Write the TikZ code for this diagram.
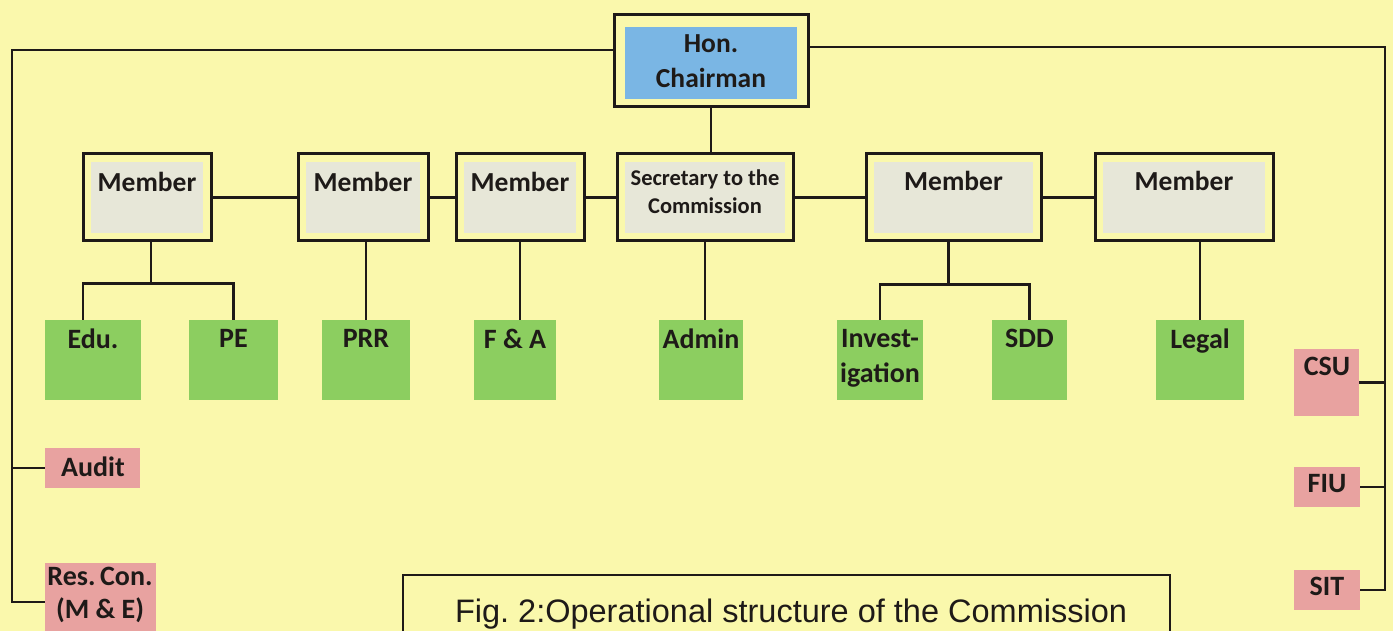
\documentclass[tikz,border=0pt]{standalone}
\usepackage{fontspec}
\setmainfont{Carlito}
\newfontfamily\capfont{Liberation Sans}
\definecolor{bgyellow}{RGB}{250,248,172}
\definecolor{ink}{RGB}{30,26,24}
\definecolor{chairblue}{RGB}{122,182,228}
\definecolor{unitgreen}{RGB}{140,206,96}
\definecolor{unitpink}{RGB}{232,162,160}
\definecolor{greyin}{RGB}{231,231,216}
\tikzset{
  conn/.style={draw=ink, line width=2.7pt},
  memberbox/.style={draw=ink, line width=3pt, fill=bgyellow, inner sep=0pt,
    path picture={\fill[greyin] ([shift={(8pt,-8pt)}]path picture bounding box.north west) rectangle ([shift={(-8pt,8pt)}]path picture bounding box.south east);}},
  chairbox/.style={draw=ink, line width=3pt, fill=bgyellow, inner sep=0pt,
    path picture={\fill[chairblue] ([shift={(11pt,-12pt)}]path picture bounding box.north west) rectangle ([shift={(-11pt,8pt)}]path picture bounding box.south east);}},
  greenbox/.style={fill=unitgreen, inner sep=0pt},
  pinkbox/.style={fill=unitpink, inner sep=0pt},
  lab/.style={inner sep=0pt, anchor=north, align=center, text=ink, font=\bfseries\fontsize{27.5}{35}\selectfont},
  unitlab/.style={lab, font=\bfseries\fontsize{28}{35}\selectfont},
}
\begin{document}
\begin{tikzpicture}[x=1pt,y=-1pt]
\useasboundingbox (0,0) rectangle (1393,631);
\clip (0,0) rectangle (1393,631);
\fill[bgyellow] (0,0) rectangle (1393,631);

% top
\node[chairbox, minimum width=194pt, minimum height=92pt] (chair) at (711,61) {};
\node[lab] (chairT) at (711,34) {Hon.\\Chairman};

% member row
\node[memberbox, minimum width=128pt, minimum height=87pt] (m1) at (147,197.5) {};
\node[memberbox, minimum width=130pt, minimum height=87pt] (m2) at (363,197.5) {};
\node[memberbox, minimum width=128pt, minimum height=87pt] (m3) at (520,197.5) {};
\node[memberbox, minimum width=176pt, minimum height=87pt] (sec) at (705,197.5) {};
\node[memberbox, minimum width=175pt, minimum height=87pt] (m4) at (953.5,197.5) {};
\node[memberbox, minimum width=178pt, minimum height=87pt] (m5) at (1184,197.5) {};
\node[lab] (m1T) at (147,172) {Member};
\node[lab] (m2T) at (363,172) {Member};
\node[lab] (m3T) at (520,172) {Member};
\node[lab, font=\bfseries\fontsize{22.5}{28}\selectfont] (secT) at (705,170) {Secretary to the\\Commission};
\node[lab] (m4T) at (953.5,171) {Member};
\node[lab] (m5T) at (1184,171) {Member};

% green units
\node[greenbox, minimum width=96pt, minimum height=80pt] (edu) at (93,360) {};
\node[greenbox, minimum width=89pt, minimum height=80pt] (pe) at (233.5,360) {};
\node[greenbox, minimum width=88pt, minimum height=80pt] (prr) at (366,360) {};
\node[greenbox, minimum width=82pt, minimum height=80pt] (fa) at (515,360) {};
\node[greenbox, minimum width=84pt, minimum height=80pt] (admin) at (701,360) {};
\node[greenbox, minimum width=86pt, minimum height=80pt] (inv) at (880,360) {};
\node[greenbox, minimum width=75pt, minimum height=80pt] (sdd) at (1029.5,360) {};
\node[greenbox, minimum width=88pt, minimum height=80pt] (legal) at (1200,360) {};
\node[unitlab] (eduT) at (93,329) {Edu.};
\node[unitlab] (peT) at (233.5,329) {PE};
\node[unitlab] (prrT) at (366,329) {PRR};
\node[unitlab] (faT) at (515,329) {F \& A};
\node[unitlab] (adminT) at (701,329) {Admin};
\node[unitlab] (invT) at (880,329) {Invest-\\igation};
\node[unitlab] (sddT) at (1029.5,329) {SDD};
\node[unitlab] (legalT) at (1200,329) {Legal};

% pink units
\node[pinkbox, minimum width=95pt, minimum height=40pt] (audit) at (92.5,468) {};
\node[pinkbox, minimum width=111pt, minimum height=80pt] (res) at (100.5,603) {};
\node[pinkbox, minimum width=65pt, minimum height=67pt] (csu) at (1326.5,382.5) {};
\node[pinkbox, minimum width=66pt, minimum height=40pt] (fiu) at (1327,487) {};
\node[pinkbox, minimum width=66pt, minimum height=40pt] (sit) at (1327,590) {};
\node[unitlab] (auditT) at (93,457) {Audit};
\node[unitlab, font=\bfseries\fontsize{28}{33}\selectfont] (resT) at (100,567) {Res.\,Con.\\(M \& E)};
\node[unitlab] (csuT) at (1327,357) {CSU};
\node[unitlab] (fiuT) at (1327,474) {FIU};
\node[unitlab] (sitT) at (1327,577) {SIT};

% connectors: chairman
\draw[conn] (chair.south) -- (chair.south |- sec.north);
\coordinate (lb) at (12,602);
\coordinate (rb) at (1385,590);
\draw[conn] ([yshift=11pt]chair.west) -| (lb) -- (res.west |- lb);
\draw[conn] (audit.west) -- (audit.west -| lb);
\draw[conn] ([yshift=14pt]chair.east) -| (rb) -- (sit.east |- rb);
\draw[conn] (csu.east) -- (csu.east -| rb);
\draw[conn] (fiu.east) -- (fiu.east -| rb);

% member row line
\draw[conn] (m1) -- (m2);
\draw[conn] (m2) -- (m3);
\draw[conn] (m3) -- (sec);
\draw[conn] (sec) -- (m4);
\draw[conn] (m4) -- (m5);

% drops
\draw[conn] ([xshift=4pt]m1.south) -- ++(0,41) coordinate (j1);
\draw[conn] ([xshift=-10pt]edu.north) |- (j1) -| (pe.north);
\draw[conn] (prr.north) -- (prr.north |- m2.south);
\draw[conn] (m3.south) -- (m3.south |- fa.north);
\draw[conn] (sec.south) -- (sec.south |- admin.north);
\draw[conn] ([xshift=-5pt]m4.south) -- ++(0,42) coordinate (j4);
\draw[conn] (inv.north) |- (j4) -| (sdd.north);
\draw[conn] (legal.north) -- (legal.north |- m5.south);

% caption
\node[draw=ink, line width=2.4pt, fill=bgyellow, minimum width=767pt, minimum height=90pt, inner sep=0pt] (capbox) at (786.5,620) {};
\node[inner sep=0pt, anchor=base, text=ink, font=\capfont\fontsize{32.5}{38}\selectfont] (capT) at (791,622) {Fig.\ 2:Operational structure of the Commission};
\end{tikzpicture}
\end{document}
